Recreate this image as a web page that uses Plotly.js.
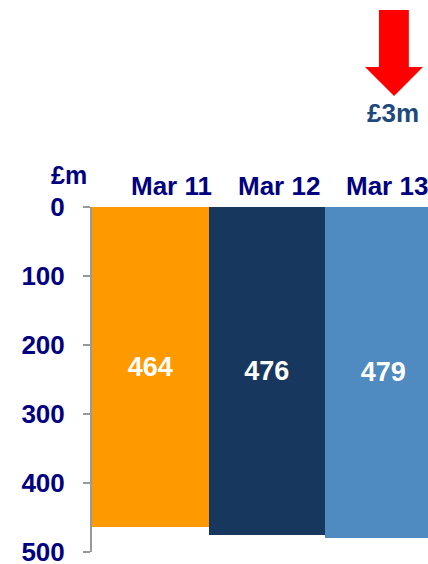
<!DOCTYPE html>
<html>
<head>
<meta charset="utf-8">
<script src="https://cdn.plot.ly/plotly-3.0.1.min.js"></script>
<style>
html,body{margin:0;padding:0;background:#fff;overflow:hidden;}
#chart{width:428px;height:564px;}
</style>
</head>
<body>
<div id="chart"></div>
<script>
// Data
const categories = ["Mar 11", "Mar 12", "Mar 13"];
const values = [464, 476, 479];
const barColors = ["#FF9900", "#17375E", "#4F8BC0"];
const yTickVals = [0, 100, 200, 300, 400, 500];
const unitLabel = "£m";
const changeLabel = "£3m";

const navy = "#000080";
const fontFamily = "'Liberation Sans', Arial, sans-serif";

const trace = {
  type: "bar",
  x: categories,
  y: values,
  marker: { color: barColors, line: { width: 0 } },
  text: values.map(String),
  textposition: "inside",
  insidetextanchor: "middle",
  textangle: 0,
  constraintext: "none",
  textfont: { family: fontFamily, size: 27, color: "#ffffff", weight: "bold" },
  hoverinfo: "none",
  cliponaxis: true
};

const labelShifts = [21, 12, 4];
const catAnnotations = categories.map((c, i) => ({
  x: c, xref: "x", y: 1.061, yref: "paper",
  text: c, showarrow: false, xanchor: "center", yanchor: "middle",
  xshift: labelShifts[i],
  font: { family: fontFamily, size: 26, color: navy, weight: "bold" }
}));

const layout = {
  width: 428, height: 564,
  margin: { l: 92, r: 0, t: 207, b: 12, pad: 0 },
  paper_bgcolor: "#ffffff", plot_bgcolor: "#ffffff",
  bargap: 0,
  showlegend: false,
  xaxis: {
    type: "category",
    range: [-0.5, 2.384],
    showticklabels: false, showline: false, showgrid: false, zeroline: false, ticks: ""
  },
  yaxis: {
    range: [500, 0],
    tickvals: yTickVals,
    ticktext: yTickVals.map(String),
    showgrid: false, zeroline: false,
    showline: true, linecolor: "#999999", linewidth: 2,
    ticks: "outside", ticklen: 7, tickwidth: 2, tickcolor: "#999999",
    ticklabelstandoff: 13,
    ticklabeloverflow: "allow",
    tickfont: { family: fontFamily, size: 26, color: navy, weight: "bold" }
  },
  annotations: catAnnotations.concat([
    { x: -0.068, xref: "paper", y: 1.093, yref: "paper", text: unitLabel, showarrow: false,
      xanchor: "center", yanchor: "middle",
      font: { family: fontFamily, size: 25, color: navy, weight: "bold" } },
    { x: 0.896, xref: "paper", y: 1.272, yref: "paper", text: changeLabel, showarrow: false,
      xanchor: "center", yanchor: "middle",
      font: { family: fontFamily, size: 26, color: "#1F497D", weight: "bold" } }
  ]),
  shapes: [
    { type: "path", xref: "paper", yref: "paper",
      path: "M 0.854 1.571 L 0.943 1.571 L 0.943 1.406 L 0.985 1.406 L 0.899 1.322 L 0.8125 1.406 L 0.854 1.406 Z",
      fillcolor: "#FF0000", line: { width: 0 } }
  ]
};

Plotly.newPlot("chart", [trace], layout, { displayModeBar: false, staticPlot: true });
</script>
</body>
</html>
